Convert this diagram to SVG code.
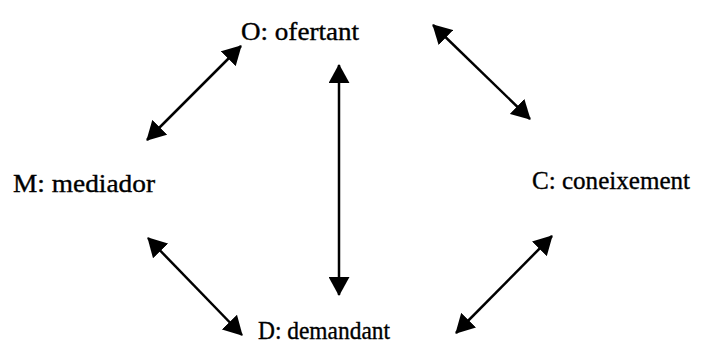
<svg xmlns="http://www.w3.org/2000/svg" width="701" height="346" viewBox="0 0 701 346">
<style>
.lbl{font-family:"Liberation Serif","Times New Roman",serif;font-size:25px;fill:#000;stroke:#000;stroke-width:0.35}
.con{stroke:#000;stroke-width:2.5;fill:none;marker-start:url(#ah);marker-end:url(#ah)}
</style>
<defs>
<marker id="ah" viewBox="0 0 10 10" refX="9.5" refY="5" markerWidth="7.6" markerHeight="8.4" markerUnits="strokeWidth" orient="auto-start-reverse" preserveAspectRatio="none">
<path d="M0,0 L10,5 L0,10 Z" fill="#000"/>
</marker>
</defs>
<rect width="701" height="346" fill="#fff"/>
<g id="connectors">
<line class="con" x1="147" y1="140" x2="241" y2="46"/>
<line class="con" x1="339" y1="65" x2="339" y2="295"/>
<line class="con" x1="433" y1="25" x2="530" y2="119"/>
<line class="con" x1="148" y1="238" x2="242" y2="335"/>
<line class="con" x1="456" y1="333" x2="552" y2="236"/>
</g>
<g id="node-O"><text class="lbl" x="241" y="40" textLength="118" lengthAdjust="spacingAndGlyphs">O: ofertant</text></g>
<g id="node-M"><text class="lbl" x="13" y="192" textLength="142" lengthAdjust="spacingAndGlyphs">M: mediador</text></g>
<g id="node-C"><text class="lbl" x="532" y="189" textLength="158" lengthAdjust="spacingAndGlyphs">C: coneixement</text></g>
<g id="node-D"><text class="lbl" x="258" y="339" textLength="132" lengthAdjust="spacingAndGlyphs">D: demandant</text></g>
</svg>
